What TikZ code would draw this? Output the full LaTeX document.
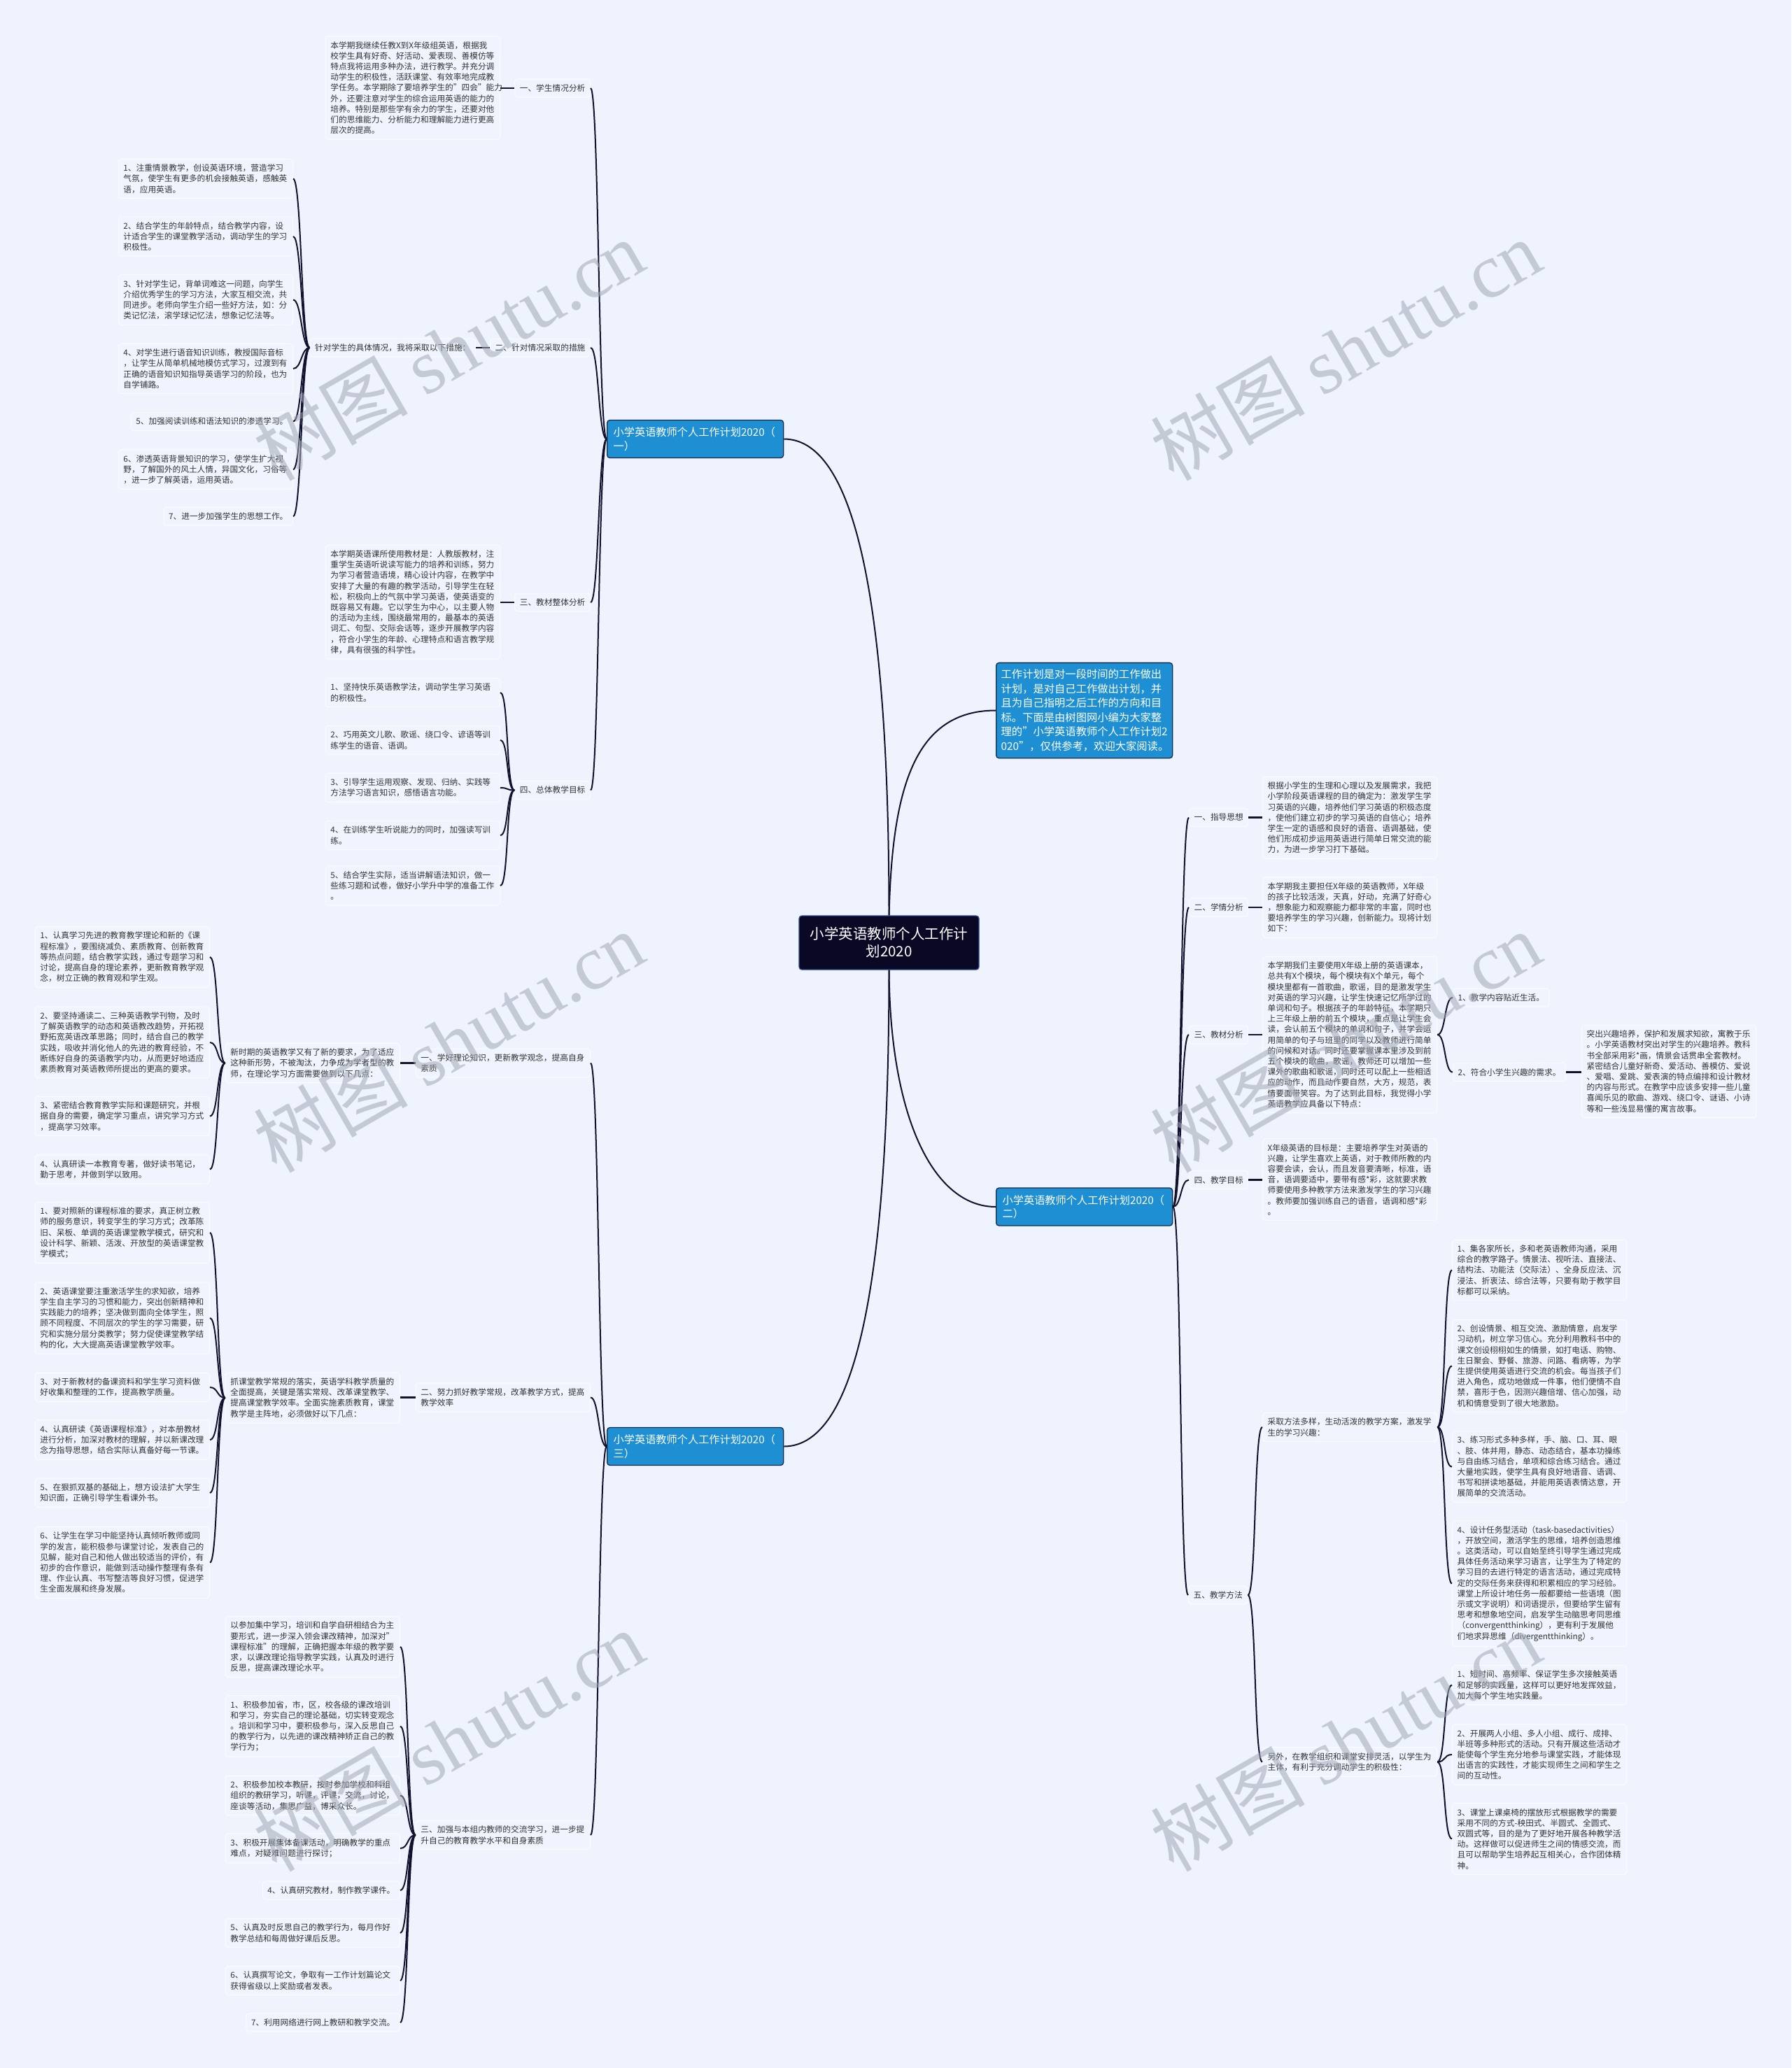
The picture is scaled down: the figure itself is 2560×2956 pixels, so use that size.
\documentclass[tikz,border=0pt]{standalone}
\usepackage{fontspec}
\setmainfont{Noto Sans CJK SC}
\newfontfamily\wmlatin{Liberation Serif}
\definecolor{bg}{HTML}{EEF3FD}
\definecolor{boxfill}{HTML}{EFF4FE}
\definecolor{boxline}{HTML}{F9FBFF}
\definecolor{txt}{HTML}{333333}
\definecolor{lnk}{HTML}{12122E}
\definecolor{blu}{HTML}{1D8FD2}
\definecolor{navy}{HTML}{1A2A4A}
\definecolor{rootfill}{HTML}{0B0826}
\definecolor{rootline}{HTML}{2C4A90}
\definecolor{wmc}{HTML}{A2A8B6}
\newcommand\smf{\fontsize{11.7pt}{15.2pt}\selectfont\hyphenpenalty=10000 \exhyphenpenalty=10000 }
\newcommand\bluef{\fontsize{15.2pt}{19.5pt}\selectfont}
\newcommand\introf{\fontsize{15.3pt}{20.5pt}\selectfont}
\newcommand\rootf{\fontsize{20.5pt}{25pt}\selectfont}
\newcommand\lk[2]{\draw[conn] (#1.west) .. controls +(-12,0) and +(12,0) .. (#2.east);}
\newcommand\rk[2]{\draw[conn] (#1.east) .. controls +(12,0) and +(-12,0) .. (#2.west);}
\tikzset{
 conn/.style={draw=lnk, line width=2pt},
 sconn/.style={draw=lnk, line width=2.6pt},
 box/.style={draw=boxline, fill=boxfill, line width=1.2pt, rounded corners=4pt, inner xsep=7pt, inner ysep=7.5pt, font=\smf, text=txt, align=left},
 para/.style={box, text width=235pt},
 bluebox/.style={draw=navy, fill=blu, line width=1.3pt, rounded corners=4pt, text=white, font=\bluef, align=left, text width=234pt, inner xsep=9pt, inner ysep=10pt},
 introbox/.style={draw=navy, fill=blu, line width=1.3pt, rounded corners=4pt, text=white, font=\introf, align=left, text width=238pt, inner xsep=7pt, inner ysep=9.6pt},
 rootbox/.style={draw=rootline, fill=rootfill, line width=1.3pt, rounded corners=4pt, text=white, font=\rootf, align=center, text width=226pt, inner xsep=15.5pt, inner ysep=16.5pt},
 wm/.style={text=wmc, opacity=0.55, font=\fontsize{110pt}{120pt}\selectfont, inner sep=0pt}
}
\begin{document}
\begin{tikzpicture}[x={(1pt,0pt)}, y={(0pt,-1pt)}]
\fill[bg] (0,0) rectangle (2560,2956);

% ---------------- root, intro, main branches
\node[rootbox] (root) at (1270.5,1347.5) {小学英语教师个人工作计\\划2020};
\node[introbox, anchor=west] (intro) at (1423,1015.5) {工作计划是对一段时间的工作做出\\计划，是对自己工作做出计划，并\\且为自己指明之后工作的方向和目\\标。下面是由树图网小编为大家整\\理的"小学英语教师个人工作计划2\\020"，仅供参考，欢迎大家阅读。};
\node[bluebox, anchor=west] (b1) at (867,627.5) {小学英语教师个人工作计划2020（\\一）};
\node[bluebox, anchor=west] (b2) at (1423,1725) {小学英语教师个人工作计划2020（\\二）};
\node[bluebox, anchor=west] (b3) at (867,2067.5) {小学英语教师个人工作计划2020（\\三）};

% ---------------- (一) branch
\node[box, anchor=east] (l1a) at (844,126) {一、学生情况分析};
\node[para, anchor=east] (p1a) at (715,125.5) {本学期我继续任教X到X年级组英语，根据我\\校学生具有好奇、好活动、爱表现、善模仿等\\特点我将运用多种办法，进行教学。并充分调\\动学生的积极性，活跃课堂、有效率地完成教\\学任务。本学期除了要培养学生的"四会"能力\\外，还要注意对学生的综合运用英语的能力的\\培养。特别是那些学有余力的学生，还要对他\\们的思维能力、分析能力和理解能力进行更高\\层次的提高。};
\node[box, anchor=east] (l1b) at (844,497) {二、针对情况采取的措施};
\node[box, anchor=east] (s1b) at (680,497) {针对学生的具体情况，我将采取以下措施：};
\node[para, anchor=east] (t1) at (419,255.5) {1、注重情景教学，创设英语环境，营造学习\\气氛，使学生有更多的机会接触英语，感触英\\语，应用英语。};
\node[para, anchor=east] (t2) at (419,338) {2、结合学生的年龄特点，结合教学内容，设\\计适合学生的课堂教学活动，调动学生的学习\\积极性。};
\node[para, anchor=east] (t3) at (419,428.5) {3、针对学生记，背单词难这一问题，向学生\\介绍优秀学生的学习方法，大家互相交流，共\\同进步。老师向学生介绍一些好方法，如：分\\类记忆法，滚学球记忆法，想象记忆法等。};
\node[para, anchor=east] (t4) at (419,527) {4、对学生进行语音知识训练，教授国际音标\\，让学生从简单机械地模仿式学习，过渡到有\\正确的语音知识知指导英语学习的阶段，也为\\自学铺路。};
\node[box, anchor=east] (t5) at (419,602.5) {5、加强阅读训练和语法知识的渗透学习。};
\node[para, anchor=east] (t6) at (419,671) {6、渗透英语背景知识的学习，使学生扩大视\\野，了解国外的风土人情，异国文化，习俗等\\，进一步了解英语，运用英语。};
\node[box, anchor=east] (t7) at (419,738) {7、进一步加强学生的思想工作。};
\node[box, anchor=east] (l1c) at (844,861) {三、教材整体分析};
\node[para, anchor=east] (p1c) at (715,860.5) {本学期英语课所使用教材是：人教版教材，注\\重学生英语听说读写能力的培养和训练，努力\\为学习者营造语境，精心设计内容，在教学中\\安排了大量的有趣的教学活动，引导学生在轻\\松，积极向上的气氛中学习英语，使英语变的\\既容易又有趣。它以学生为中心，以主要人物\\的活动为主线，围绕最常用的，最基本的英语\\词汇、句型、交际会话等，逐步开展教学内容\\，符合小学生的年龄、心理特点和语言教学规\\律，具有很强的科学性。};
\node[box, anchor=east] (l1d) at (844,1129.5) {四、总体教学目标};
\node[para, anchor=east] (g1) at (715,990) {1、坚持快乐英语教学法，调动学生学习英语\\的积极性。};
\node[para, anchor=east] (g2) at (715,1058) {2、巧用英文儿歌、歌谣、绕口令、谚语等训\\练学生的语音、语调。};
\node[para, anchor=east] (g3) at (715,1126) {3、引导学生运用观察、发现、归纳、实践等\\方法学习语言知识，感悟语言功能。};
\node[para, anchor=east] (g4) at (715,1194) {4、在训练学生听说能力的同时，加强读写训\\练。};
\node[para, anchor=east] (g5) at (715,1266) {5、结合学生实际，适当讲解语法知识，做一\\些练习题和试卷，做好小学升中学的准备工作\\。};

% ---------------- (三) branch
\node[para, anchor=east] (l3a) at (844,1519.5) {一、学好理论知识，更新教学观念，提高自身\\素质};
\node[para, anchor=east] (s3a) at (572,1519.5) {新时期的英语教学又有了新的要求，为了适应\\这种新形势，不被淘汰，力争成为学者型的教\\师，在理论学习方面需要做到以下几点：};
\node[para, anchor=east] (a1) at (300,1368) {1、认真学习先进的教育教学理论和新的《课\\程标准》，要围绕减负、素质教育、创新教育\\等热点问题，结合教学实践，通过专题学习和\\讨论，提高自身的理论素养，更新教育教学观\\念，树立正确的教育观和学生观。};
\node[para, anchor=east] (a2) at (300,1490) {2、要坚持通读二、三种英语教学刊物，及时\\了解英语教学的动态和英语教改趋势，开拓视\\野拓宽英语改革思路；同时，结合自己的教学\\实践，吸收并消化他人的先进的教育经验，不\\断练好自身的英语教学内功，从而更好地适应\\素质教育对英语教师所提出的更高的要求。};
\node[para, anchor=east] (a3) at (300,1595.5) {3、紧密结合教育教学实际和课题研究，并根\\据自身的需要，确定学习重点，讲究学习方式\\，提高学习效率。};
\node[para, anchor=east] (a4) at (300,1671.5) {4、认真研读一本教育专著，做好读书笔记，\\勤于思考，并做到学以致用。};
\node[para, anchor=east] (l3b) at (844,1997.5) {二、努力抓好教学常规，改革教学方式，提高\\教学效率};
\node[para, anchor=east] (s3b) at (572,1998) {抓课堂教学常规的落实，英语学科教学质量的\\全面提高，关键是落实常规、改革课堂教学、\\提高课堂教学效率。全面实施素质教育，课堂\\教学是主阵地，必须做好以下几点：};
\node[para, anchor=east] (bb1) at (300,1762) {1、要对照新的课程标准的要求，真正树立教\\师的服务意识，转变学生的学习方式；改革陈\\旧、呆板、单调的英语课堂教学模式，研究和\\设计科学、新颖、活泼、开放型的英语课堂教\\学模式；};
\node[para, anchor=east] (bb2) at (300,1884) {2、英语课堂要注重激活学生的求知欲，培养\\学生自主学习的习惯和能力，突出创新精神和\\实践能力的培养；坚决做到面向全体学生，照\\顾不同程度、不同层次的学生的学习需要，研\\究和实施分层分类教学；努力促使课堂教学结\\构的化，大大提高英语课堂教学效率。};
\node[para, anchor=east] (bb3) at (300,1983) {3、对于新教材的备课资料和学生学习资料做\\好收集和整理的工作，提高教学质量。};
\node[para, anchor=east] (bb4) at (300,2058) {4、认真研读《英语课程标准》，对本册教材\\进行分析，加深对教材的理解，并以新课改理\\念为指导思想，结合实际认真备好每一节课。};
\node[para, anchor=east] (bb5) at (300,2134) {5、在狠抓双基的基础上，想方设法扩大学生\\知识面，正确引导学生看课外书。};
\node[para, anchor=east] (bb6) at (300,2233.5) {6、让学生在学习中能坚持认真倾听教师或同\\学的发言，能积极参与课堂讨论，发表自己的\\见解，能对自己和他人做出较适当的评价，有\\初步的合作意识，能做到活动操作整理有条有\\理、作业认真、书写整洁等良好习惯，促进学\\生全面发展和终身发展。};
\node[para, anchor=east] (l3c) at (844,2623) {三、加强与本组内教师的交流学习，进一步提\\升自己的教育教学水平和自身素质};
\node[para, anchor=east] (c0) at (572,2354) {以参加集中学习，培训和自学自研相结合为主\\要形式，进一步深入领会课改精神，加深对"\\课程标准"的理解，正确把握本年级的教学要\\求，以课改理论指导教学实践，认真及时进行\\反思，提高课改理论水平。};
\node[para, anchor=east] (c1) at (572,2467.5) {1、积极参加省，市，区，校各级的课改培训\\和学习，夯实自己的理论基础，切实转变观念\\。培训和学习中，要积极参与，深入反思自己\\的教学行为，以先进的课改精神矫正自己的教\\学行为；};
\node[para, anchor=east] (c2) at (572,2566.5) {2、积极参加校本教研，按时参加学校和科组\\组织的教研学习，听课，评课，交流，讨论，\\座谈等活动，集思广益，博采众长。};
\node[para, anchor=east] (c3) at (572,2642) {3、积极开展集体备课活动，明确教学的重点\\难点，对疑难问题进行探讨；};
\node[box, anchor=east] (c4) at (572,2702) {4、认真研究教材，制作教学课件。};
\node[para, anchor=east] (c5) at (572,2763) {5、认真及时反思自己的教学行为，每月作好\\教学总结和每周做好课后反思。};
\node[para, anchor=east] (c6) at (572,2831) {6、认真撰写论文，争取有一工作计划篇论文\\获得省级以上奖励或者发表。};
\node[box, anchor=east] (c7) at (572,2891) {7、利用网络进行网上教研和教学交流。};

% ---------------- (二) branch
\node[box, anchor=west] (r1) at (1699,1168.5) {一、指导思想};
\node[para, anchor=west] (q1) at (1804,1169) {根据小学生的生理和心理以及发展需求，我把\\小学阶段英语课程的目的确定为：激发学生学\\习英语的兴趣，培养他们学习英语的积极态度\\，使他们建立初步的学习英语的自信心；培养\\学生一定的语感和良好的语音、语调基础，使\\他们形成初步运用英语进行简单日常交流的能\\力，为进一步学习打下基础。};
\node[box, anchor=west] (r2) at (1699,1297) {二、学情分析};
\node[para, anchor=west] (q2) at (1804,1297) {本学期我主要担任X年级的英语教师，X年级\\的孩子比较活泼，天真，好动，充满了好奇心\\，想象能力和观察能力都非常的丰富，同时也\\要培养学生的学习兴趣，创新能力。现将计划\\如下：};
\node[box, anchor=west] (r3) at (1699,1479) {三、教材分析};
\node[para, anchor=west] (q3) at (1804,1479) {本学期我们主要使用X年级上册的英语课本，\\总共有X个模块，每个模块有X个单元，每个\\模块里都有一首歌曲，歌谣，目的是激发学生\\对英语的学习兴趣，让学生快速记忆所学过的\\单词和句子。根据孩子的年龄特征，本学期只\\上三年级上册的前五个模块，重点是让学生会\\读，会认前五个模块的单词和句子，并学会运\\用简单的句子与班里的同学以及教师进行简单\\的问候和对话。同时还要掌握课本里涉及到前\\五个模块的歌曲，歌谣，教师还可以增加一些\\课外的歌曲和歌谣，同时还可以配上一些相适\\应的动作，而且动作要自然，大方，规范，表\\情要面带笑容。为了达到此目标，我觉得小学\\英语教学应具备以下特点：};
\node[box, anchor=west] (r3a) at (2076,1426) {1、教学内容贴近生活。};
\node[box, anchor=west] (r3b) at (2076,1532.5) {2、符合小学生兴趣的需求。};
\node[para, anchor=west] (fr) at (2260,1531.5) {突出兴趣培养，保护和发展求知欲，寓教于乐\\。小学英语教材突出对学生的兴趣培养。教科\\书全部采用彩*画，情景会话贯串全套教材。\\紧密结合儿童好新奇、爱活动、善模仿、爱说\\、爱唱、爱跳、爱表演的特点编排和设计教材\\的内容与形式。在教学中应该多安排一些儿童\\喜闻乐见的歌曲、游戏、绕口令、谜语、小诗\\等和一些浅显易懂的寓言故事。};
\node[box, anchor=west] (r4) at (1699,1686.5) {四、教学目标};
\node[para, anchor=west] (q4) at (1804,1686) {X年级英语的目标是：主要培养学生对英语的\\兴趣，让学生喜欢上英语，对于教师所教的内\\容要会读，会认，而且发音要清晰，标准，语\\音，语调要适中，要带有感*彩，这就要求教\\师要使用多种教学方法来激发学生的学习兴趣\\。教师要加强训练自己的语音，语调和感*彩\\。};
\node[box, anchor=west] (r5) at (1698,2280) {五、教学方法};
\node[para, anchor=west] (s5a) at (1804,2040) {采取方法多样，生动活泼的教学方案，激发学\\生的学习兴趣：};
\node[para, anchor=west] (m1) at (2075,1815.5) {1、集各家所长，多和老英语教师沟通，采用\\综合的教学路子。情景法、视听法、直接法、\\结构法、功能法（交际法）、全身反应法、沉\\浸法、折衷法、综合法等，只要有助于教学目\\标都可以采纳。};
\node[para, anchor=west] (m2) at (2075,1952.5) {2、创设情景、相互交流、激励情意，启发学\\习动机，树立学习信心。充分利用教科书中的\\课文创设栩栩如生的情景，如打电话、购物、\\生日聚会、野餐、旅游、问路、看病等，为学\\生提供使用英语进行交流的机会。每当孩子们\\进入角色，成功地做成一件事，他们便情不自\\禁，喜形于色，因测兴趣倍增、信心加强，动\\机和情意受到了很大地激励。};
\node[para, anchor=west] (m3) at (2075,2096.5) {3、练习形式多种多样，手、脑、口、耳、眼\\、肢、体并用，静态、动态结合，基本功操练\\与自由练习结合，单项和综合练习结合。通过\\大量地实践，使学生具有良好地语音、语调、\\书写和拼读地基础，并能用英语表情达意，开\\展简单的交流活动。};
\node[para, anchor=west] (m4) at (2075,2263.5) {4、设计任务型活动（task-basedactivities）\\，开放空间，激活学生的思维，培养创造思维\\。这类活动，可以自始至终引导学生通过完成\\具体任务活动来学习语言，让学生为了特定的\\学习目的去进行特定的语言活动，通过完成特\\定的交际任务来获得和积累相应的学习经验。\\课堂上所设计地任务一般都要给一些语境（图\\示或文字说明）和词语提示，但要给学生留有\\思考和想象地空间，启发学生动脑思考同思维\\（convergentthinking），更有利于发展他\\们地求异思维（divergentthinking）。};
\node[para, anchor=west] (s5b) at (1804,2518.5) {另外，在教学组织和课堂安排灵活，以学生为\\主体，有利于充分调动学生的积极性：};
\node[para, anchor=west] (n1) at (2075,2408.5) {1、短时间、高频率、保证学生多次接触英语\\和足够的实践量，这样可以更好地发挥效益，\\加大每个学生地实践量。};
\node[para, anchor=west] (n2) at (2075,2508) {2、开展两人小组、多人小组、成行、成排、\\半班等多种形式的活动。只有开展这些活动才\\能使每个学生充分地参与课堂实践，才能体现\\出语言的实践性，才能实现师生之间和学生之\\间的互动性。};
\node[para, anchor=west] (n3) at (2075,2628.5) {3、课堂上课桌椅的摆放形式根据教学的需要\\采用不同的方式-秧田式、半圆式、全圆式、\\双圆式等，目的是为了更好地开展各种教学活\\动。这样做可以促进师生之间的情感交流，而\\且可以帮助学生培养起互相关心，合作团体精\\神。};

% ---------------- connectors
\draw[conn] (root.north) .. controls (1270.5,900) and (1230,627.5) .. (b1.east);
\draw[conn] (root.north) .. controls (1275,1130) and (1305,1015.5) .. (intro.west);
\draw[conn] (root.south) .. controls (1272,1600) and (1335,1725) .. (b2.west);
\draw[conn] (root.south) .. controls (1270.5,1800) and (1230,2067.5) .. (b3.east);

\foreach \c in {l1a,l1b,l1c,l1d} {\lk{b1}{\c}}
\draw[sconn] (l1a.west) -- (p1a.east |- l1a.west);
\draw[sconn] (l1b.west) -- (s1b.east |- l1b.west);
\draw[sconn] (l1c.west) -- (p1c.east |- l1c.west);
\foreach \c in {t1,t2,t3,t4,t5,t6,t7} {\lk{s1b}{\c}}
\foreach \c in {g1,g2,g3,g4,g5} {\lk{l1d}{\c}}

\foreach \c in {l3a,l3b,l3c} {\lk{b3}{\c}}
\draw[sconn] (l3a.west) -- (s3a.east |- l3a.west);
\draw[sconn] (l3b.west) -- (s3b.east |- l3b.west);
\foreach \c in {a1,a2,a3,a4} {\lk{s3a}{\c}}
\foreach \c in {bb1,bb2,bb3,bb4,bb5,bb6} {\lk{s3b}{\c}}
\foreach \c in {c0,c1,c2,c3,c4,c5,c6,c7} {\lk{l3c}{\c}}

\foreach \c in {r1,r2,r3,r4,r5} {\rk{b2}{\c}}
\draw[sconn] (r1.east) -- (q1.west |- r1.east);
\draw[sconn] (r2.east) -- (q2.west |- r2.east);
\draw[sconn] (r3.east) -- (q3.west |- r3.east);
\draw[sconn] (r4.east) -- (q4.west |- r4.east);
\draw[sconn] (r3b.east) -- (fr.west |- r3b.east);
\foreach \c in {r3a,r3b} {\rk{q3}{\c}}
\foreach \c in {s5a,s5b} {\rk{r5}{\c}}
\foreach \c in {m1,m2,m3,m4} {\rk{s5a}{\c}}
\foreach \c in {n1,n2,n3} {\rk{s5b}{\c}}

% ---------------- watermarks
\foreach \p in {(641,500),(1923,500),(641,1489),(1923,1489),(641,2488),(1923,2488)}
  {\node[wm, rotate=30] at \p {树图 {\wmlatin shutu.cn}};}
\end{tikzpicture}
\end{document}
